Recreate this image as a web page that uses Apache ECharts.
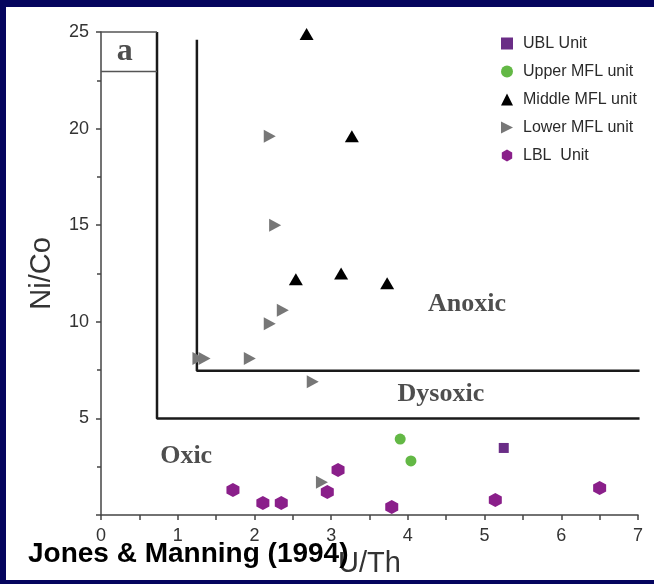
<!DOCTYPE html>
<html><head><meta charset="utf-8">
<script src="https://cdn.jsdelivr.net/npm/echarts@6/dist/echarts.min.js"></script>
<style>html,body{margin:0;padding:0;background:#fff}#c{width:654px;height:584px}</style>
</head><body><div id="c"></div>
<script>
// ---- data (U/Th, Ni/Co) ----
const xTickValues = [0, 1, 2, 3, 4, 5, 6, 7];
const yTickValues = [0, 5, 10, 15, 20, 25];
const seriesNames = ['UBL Unit', 'Upper MFL unit', 'Middle MFL unit', 'Lower MFL unit', 'LBL  Unit'];
const ublUnit = [[5.25, 3.47]];
const upperMFL = [[3.90, 3.93], [4.04, 2.80]];
const middleMFL = [[2.68, 24.9], [3.27, 19.6], [2.54, 12.2], [3.13, 12.5], [3.73, 12.0]];
const lowerMFL = [[2.20, 19.6], [2.27, 15.0], [2.37, 10.6], [2.20, 9.9], [1.27, 8.1], [1.35, 8.1], [1.94, 8.1], [2.76, 6.9], [2.88, 1.7]];
const lblUnit = [[1.72, 1.3], [2.11, 0.62], [2.35, 0.62], [2.95, 1.19], [3.09, 2.33], [3.79, 0.41], [5.14, 0.78], [6.50, 1.4]];
// boundary lines (Jones & Manning 1994)
const oxicBoundary = [[0.73, 25], [0.73, 5], [7.02, 5]];
const anoxicBoundary = [[1.25, 24.6], [1.25, 7.47], [7.02, 7.47]];
const panelBoxTop = [[0, 25], [0.73, 25]];
const panelBoxBottom = [[0, 22.95], [0.73, 22.95]];
const zoneLabels = [
  {name: 'Anoxic', value: [4.77, 10.92]},
  {name: 'Dysoxic', value: [4.43, 6.26]},
  {name: 'Oxic', value: [1.11, 3.05]}
];
const panelLabel = [{name: 'a', value: [0.31, 23.96]}];

const hexPath = 'path://M5,0 L9.33,2.5 L9.33,7.5 L5,10 L0.67,7.5 L0.67,2.5 Z';
const rightTriPath = 'path://M0,0 L10,5 L0,10 Z';
const sans = '"Liberation Sans", Arial, sans-serif';
const serif = '"Liberation Serif", "Times New Roman", serif';

const chart = echarts.init(document.getElementById('c'), null, {renderer: 'canvas'});

function lineSeries(data, color, width) {
  return {type: 'line', data: data, symbol: 'none', silent: true, clip: false, z: 1,
    lineStyle: {color: color, width: width}, animation: false};
}

chart.setOption({
  animation: false,
  backgroundColor: '#fff',
  grid: {left: 101, right: 16, top: 32, bottom: 69},
  xAxis: {
    type: 'value', min: 0, max: 7, interval: 1,
    name: 'U/Th', nameLocation: 'middle', nameGap: 33,
    nameTextStyle: {fontFamily: sans, fontSize: 29, color: '#333'},
    axisLine: {lineStyle: {color: '#444', width: 1.5}},
    axisTick: {show: true, length: 5, lineStyle: {color: '#444', width: 1.5}},
    minorTick: {show: true, splitNumber: 2, length: 5, lineStyle: {color: '#444', width: 1.5}},
    axisLabel: {fontFamily: sans, fontSize: 18, color: '#333', margin: 12,
      formatter: v => xTickValues.includes(v) ? String(v) : ''},
    splitLine: {show: false}
  },
  yAxis: {
    type: 'value', min: 0, max: 25, interval: 5,
    name: 'Ni/Co', nameLocation: 'middle', nameGap: 45,
    nameTextStyle: {fontFamily: sans, fontSize: 29, color: '#333'},
    axisLine: {show: true, lineStyle: {color: '#444', width: 1.5}},
    axisTick: {show: true, length: 5, lineStyle: {color: '#444', width: 1.5}},
    minorTick: {show: true, splitNumber: 2, length: 4, lineStyle: {color: '#444', width: 1.5}},
    axisLabel: {fontFamily: sans, fontSize: 18, color: '#333', margin: 12,
      formatter: v => (yTickValues.includes(v) && v !== 0) ? String(v) : ''},
    splitLine: {show: false}
  },
  legend: {
    orient: 'vertical', left: 496, top: 30, itemWidth: 12, itemHeight: 12, itemGap: 11,
    textStyle: {fontFamily: sans, fontSize: 16, color: '#2a2a2a', lineHeight: 17, padding: [0, 0, 0, 5]},
    data: [
      {name: seriesNames[0], icon: 'rect', itemStyle: {borderWidth: 0}},
      {name: seriesNames[1], icon: 'circle'},
      {name: seriesNames[2], icon: 'triangle'},
      {name: seriesNames[3], icon: rightTriPath},
      {name: seriesNames[4], icon: hexPath}
    ]
  },
  graphic: [
    {type: 'rect', shape: {x: 0, y: 0, width: 654, height: 7}, style: {fill: '#05055e'}, z: 200},
    {type: 'rect', shape: {x: 0, y: 0, width: 6, height: 584}, style: {fill: '#05055e'}, z: 200},
    {type: 'rect', shape: {x: 0, y: 580, width: 654, height: 4}, style: {fill: '#05055e'}, z: 200},
    {type: 'text', left: 28, top: 540, z: 150,
      style: {text: 'Jones & Manning (1994)', font: 'bold 28px ' + sans, fill: '#000'}}
  ],
  series: [
    lineSeries(oxicBoundary, '#1a1a1a', 2.5),
    lineSeries(anoxicBoundary, '#1a1a1a', 2.5),
    lineSeries(panelBoxTop, '#555', 1.5),
    lineSeries(panelBoxBottom, '#555', 1.5),
    {type: 'scatter', data: zoneLabels, symbolSize: 0, silent: true, z: 3,
      label: {show: true, position: 'inside', formatter: p => p.name,
        fontFamily: serif, fontWeight: 'bold', fontSize: 26, color: '#222'}},
    {type: 'scatter', data: panelLabel, symbolSize: 0, silent: true, z: 3,
      label: {show: true, position: 'inside', formatter: p => p.name,
        fontFamily: serif, fontWeight: 'bold', fontSize: 32, color: '#222'}},
    {name: seriesNames[0], type: 'scatter', data: ublUnit, symbol: 'rect', symbolSize: 10,
      itemStyle: {color: '#6a2d86', opacity: 1}, z: 5},
    {name: seriesNames[1], type: 'scatter', data: upperMFL, symbol: 'circle', symbolSize: 11,
      itemStyle: {color: '#63b845', opacity: 1}, z: 5},
    {name: seriesNames[2], type: 'scatter', data: middleMFL, symbol: 'triangle', symbolSize: [14, 12],
      itemStyle: {color: '#000', opacity: 1}, z: 5},
    {name: seriesNames[3], type: 'scatter', data: lowerMFL, symbol: rightTriPath, symbolSize: [12, 13],
      itemStyle: {color: '#777', opacity: 1}, z: 5},
    {name: seriesNames[4], type: 'scatter', data: lblUnit, symbol: hexPath, symbolSize: [13, 14],
      itemStyle: {color: '#8a1f8a', opacity: 1}, z: 5}
  ]
});
</script></body></html>
